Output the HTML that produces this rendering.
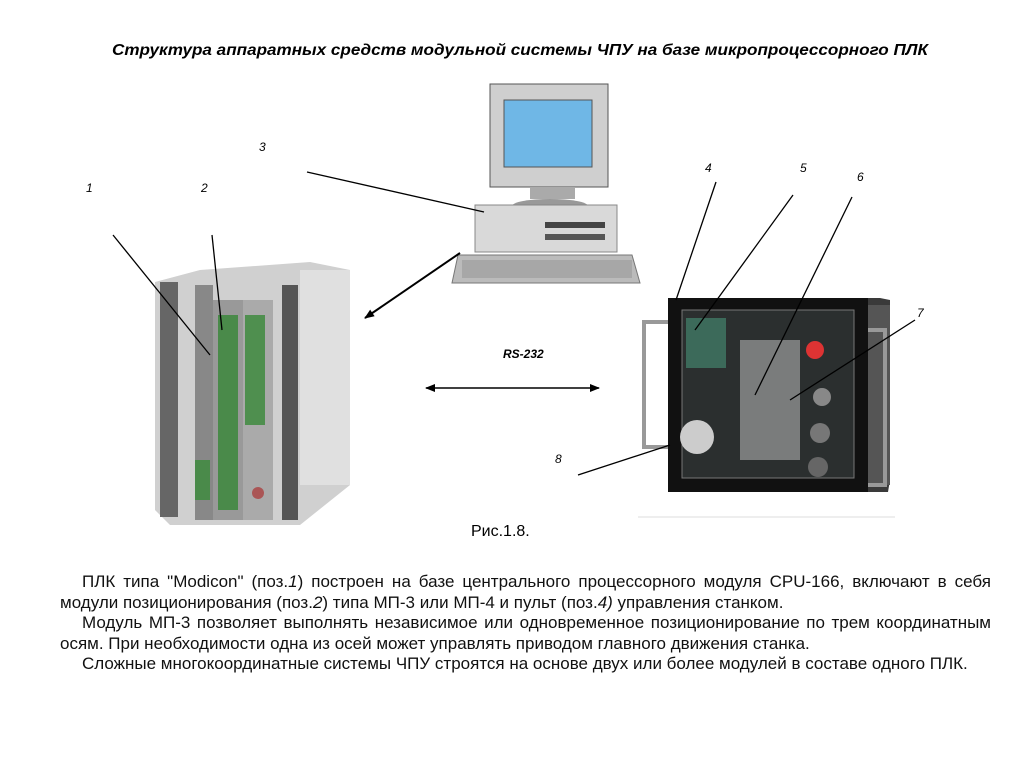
<!DOCTYPE html>
<html><head><meta charset="utf-8"><style>
html,body{margin:0;padding:0;background:#fff;}
#c{position:relative;width:1024px;height:767px;overflow:hidden;font-family:"Liberation Sans",sans-serif;}
.t{position:absolute;left:60px;top:572px;width:931px;font-size:17px;line-height:20.5px;color:#111;}
.t p{margin:0;text-align:justify;text-align-last:left;white-space:nowrap;}
.t p.j{text-align-last:justify;white-space:normal;}
.t p.i{text-indent:22px;}
</style></head><body><div id="c">
<svg width="1024" height="767" style="position:absolute;left:0;top:0">
<defs><marker id="a" markerWidth="10" markerHeight="8" refX="9" refY="4" orient="auto" markerUnits="userSpaceOnUse"><path d="M0,0 L10,4 L0,8 z" fill="#000"/></marker>
<marker id="b" markerWidth="10" markerHeight="8" refX="1" refY="4" orient="auto" markerUnits="userSpaceOnUse"><path d="M10,0 L0,4 L10,8 z" fill="#000"/></marker></defs>
<text x="112" y="55" textLength="816" lengthAdjust="spacingAndGlyphs" font-family="Liberation Sans" font-style="italic" font-weight="bold" font-size="16">Структура аппаратных средств модульной системы ЧПУ на базе микропроцессорного ПЛК</text>
<!-- computer -->
<rect x="490" y="84" width="118" height="103" fill="#cfcfcf" stroke="#555"/>
<rect x="504" y="100" width="88" height="67" fill="#6fb7e6" stroke="#555"/>
<rect x="530" y="187" width="45" height="12" fill="#aaa"/>
<ellipse cx="550" cy="206" rx="38" ry="7" fill="#999"/>
<rect x="475" y="205" width="142" height="47" fill="#d9d9d9" stroke="#888"/>
<rect x="545" y="222" width="60" height="6" fill="#444"/>
<rect x="545" y="234" width="60" height="6" fill="#555"/>
<polygon points="458,255 632,255 640,283 452,283" fill="#bbb" stroke="#777"/>
<rect x="462" y="260" width="170" height="18" fill="#999" opacity=".6"/>
<!-- PLC -->
<polygon points="155,282 200,270 310,262 350,270 350,485 300,525 170,525 155,510" fill="#d0d0d0"/>
<rect x="300" y="270" width="50" height="215" fill="#e0e0e0"/>
<rect x="160" y="282" width="18" height="235" fill="#666"/>
<rect x="282" y="285" width="16" height="235" fill="#555"/>
<rect x="195" y="285" width="18" height="235" fill="#888"/>
<rect x="213" y="300" width="30" height="220" fill="#999"/>
<rect x="218" y="315" width="20" height="195" fill="#4a8a4a"/>
<rect x="243" y="300" width="30" height="220" fill="#aaa"/>
<rect x="245" y="315" width="20" height="110" fill="#4f8f4f"/>
<rect x="195" y="460" width="15" height="40" fill="#4a8a4a"/>
<circle cx="258" cy="493" r="6" fill="#a55"/>
<!-- Panel -->
<polygon points="668,298 880,298 890,300 890,480 888,492 668,492" fill="#3a3a3a"/>
<rect x="860" y="305" width="30" height="180" fill="#555"/>
<rect x="668" y="298" width="200" height="194" fill="#111"/>
<rect x="682" y="310" width="172" height="168" fill="#2b2f2f" stroke="#777"/>
<rect x="686" y="318" width="40" height="50" fill="#3c6a5a"/>
<rect x="740" y="340" width="60" height="120" fill="#bbb" opacity=".55"/>
<circle cx="815" cy="350" r="9" fill="#d33"/>
<circle cx="697" cy="437" r="17" fill="#ccc"/>
<circle cx="822" cy="397" r="9" fill="#888"/><circle cx="820" cy="433" r="10" fill="#777"/><circle cx="818" cy="467" r="10" fill="#666"/>
<path d="M668,322 H644 V447 H668" fill="none" stroke="#999" stroke-width="4"/>
<path d="M868,330 H885 V485 H868" fill="none" stroke="#999" stroke-width="4"/>
<line x1="638" y1="517" x2="895" y2="517" stroke="#ddd"/>
<!-- leaders -->
<g stroke="#000" stroke-width="1.3" fill="none">
<line x1="307" y1="172" x2="484" y2="212"/>
<line x1="113" y1="235" x2="210" y2="355"/>
<line x1="212" y1="235" x2="222" y2="330"/>
<line x1="716" y1="182" x2="676" y2="300"/>
<line x1="793" y1="195" x2="695" y2="330"/>
<line x1="852" y1="197" x2="755" y2="395"/>
<line x1="915" y1="320" x2="790" y2="400"/>
<line x1="578" y1="475" x2="670" y2="445"/>
<line x1="460" y1="253" x2="365" y2="318" stroke-width="2" marker-end="url(#a)"/>
<line x1="426" y1="388" x2="599" y2="388" stroke-width="1.5" marker-start="url(#b)" marker-end="url(#a)"/>
</g>
<g font-family="Liberation Sans" font-style="italic" font-size="12">
<text x="259" y="151">3</text><text x="86" y="192">1</text><text x="201" y="192">2</text>
<text x="705" y="172">4</text><text x="800" y="172">5</text><text x="857" y="181">6</text>
<text x="917" y="317">7</text><text x="555" y="463">8</text>
</g>
<text x="503" y="358" font-family="Liberation Sans" font-style="italic" font-weight="bold" font-size="12">RS-232</text>
<text x="471" y="536" font-family="Liberation Sans" font-size="16">Рис.1.8.</text>
</svg>
<div class="t">
<p class="i j">ПЛК типа "Modicon" (поз.<i>1</i>) построен на базе центрального процессорного модуля CPU-166, включают в себя</p>
<p>модули позиционирования (поз.<i>2</i>) типа МП-3 или МП-4 и пульт (поз.<i>4)</i> управления станком.</p>
<p class="i j">Модуль МП-3 позволяет выполнять независимое или одновременное позиционирование по трем координатным</p>
<p>осям. При необходимости одна из осей может управлять приводом главного движения станка.</p>
<p class="i">Сложные многокоординатные системы ЧПУ строятся на основе двух или более модулей в составе одного ПЛК.</p>
</div>
</div></body></html>
